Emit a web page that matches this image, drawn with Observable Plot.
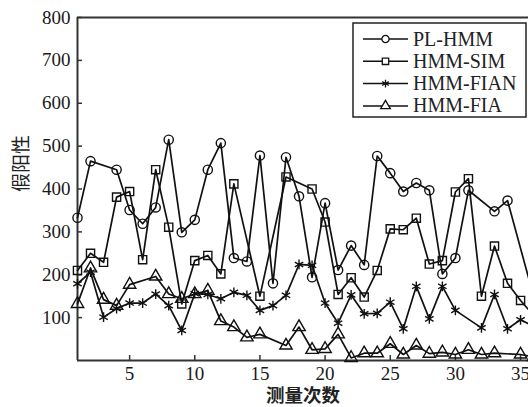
<!DOCTYPE html>
<html><head><meta charset="utf-8">
<script src="https://cdn.jsdelivr.net/npm/d3@7"></script>
<script src="https://cdn.jsdelivr.net/npm/@observablehq/plot@0.6"></script>
<style>body{margin:0;background:#fff;} #chart{width:528px;height:407px;overflow:hidden;}</style>
</head><body><div id="chart"></div>
<script>
const xs = d3.range(1, 37);
const seriesNames = ["PL-HMM", "HMM-SIM", "HMM-FIAN", "HMM-FIA"];
const seriesSymbols = ["circle", "square", "asterisk", "triangle"];
const plHmm   = [333, 465, null, 445, 351, 319, 357, 515, 299, 328, 445, 507, 239, 231, 478, 180, 474, 383, 194, 367, 211, 268, 223, 477, 437, 394, 414, 397, 202, 239, 397, null, 348, 373, null, 150];
const hmmSim  = [210, 250, 229, 381, 394, 235, 445, 311, 132, 233, 245, 202, 412, null, 150, null, 428, null, 400, 323, 154, 193, 148, 210, 307, 305, 332, 225, 233, 393, 424, 150, 267, 180, 140, 105];
const hmmFian = [179, 206, 101, 121, 134, 134, 155, 128, 70, 156, 154, 144, 159, 152, 117, 128, 152, 224, 222, 134, 87, 153, 109, 110, 136, 74, 173, 97, 173, 117, null, 76, 154, 74, 95, 80];
const hmmFia  = [132, 215, 142, 128, 177, null, 196, 155, 144, 155, 163, 92, 78, 54, 61, null, 35, 78, 25, 27, 61, 6, 17, 17, 39, 14, 35, 16, 19, 14, 25, 14, 17, null, 14, 8];
const xTicks = [5, 10, 15, 20, 25, 30, 35];
const yTicks = [100, 200, 300, 400, 500, 600, 700, 800];
const xTitle = "测量次数";
const yTitle = "假阳性";

const rows = [];
[plHmm, hmmSim, hmmFian, hmmFia].forEach((vals, s) => {
  vals.forEach((v, i) => { if (v != null) rows.push({x: xs[i], y: v, series: seriesNames[s]}); });
});

const serif = "Liberation Serif";
const cjk = "Noto Sans CJK SC";

const plot = Plot.plot({
  width: 528, height: 407,
  marginTop: 17, marginBottom: 47, marginLeft: 77, marginRight: 0,
  style: {background: "white", overflow: "hidden", color: "#222"},
  x: {domain: [1, 35.61]},
  y: {domain: [0, 800]},
  symbol: {domain: seriesNames, range: seriesSymbols},
  marks: [
    Plot.axisX({ticks: xTicks, tickSize: -5, text: null, label: null, strokeWidth: 1.5, stroke: "#333"}),
    Plot.axisY({ticks: yTicks, tickSize: -5, text: null, label: null, strokeWidth: 1.5, stroke: "#333"}),
    Plot.text(xTicks, {x: d => d, frameAnchor: "bottom", dy: 13, lineAnchor: "middle", fontFamily: serif, fontSize: 19, fill: "#1a1a1a"}),
    Plot.text(yTicks, {y: d => d, frameAnchor: "left", dx: -7, textAnchor: "end", fontFamily: serif, fontSize: 19, fill: "#1a1a1a"}),
    Plot.ruleY([0, 800], {stroke: "#333", strokeWidth: 2}),
    Plot.ruleX([1], {stroke: "#333", strokeWidth: 2}),
    Plot.line(rows, {x: "x", y: "y", z: "series", stroke: "#111", strokeWidth: 1.7}),
    Plot.dot(rows, {x: "x", y: "y", symbol: "series", stroke: "#111", strokeWidth: 1.4, r: 4.6, fill: "none"}),
    Plot.text([xTitle], {frameAnchor: "bottom", dy: 35.5, lineAnchor: "middle", fontFamily: cjk, fontSize: 18.5, fontWeight: 700, fill: "#222"}),
    Plot.text([yTitle], {frameAnchor: "left", rotate: -90, dx: -56, dy: 3, lineAnchor: "middle", fontFamily: cjk, fontSize: 19, fill: "#222"})
  ]
});

const svg = d3.select(plot);

// legend inside the plot, top-right
const lg = svg.append("g").attr("class", "legend").attr("text-anchor", "start");
lg.append("rect").attr("x", 353).attr("y", 23).attr("width", 173).attr("height", 94)
  .attr("fill", "white").attr("stroke", "#222").attr("stroke-width", 1.5);
const d3Sym = {circle: d3.symbolCircle, square: d3.symbolSquare, asterisk: d3.symbolAsterisk, triangle: d3.symbolTriangle};
seriesNames.forEach((name, i) => {
  const base = 45.5 + i * 22.3;
  const cy = base - 6.5;
  lg.append("line").attr("x1", 363).attr("x2", 408).attr("y1", cy).attr("y2", cy)
    .attr("stroke", "#111").attr("stroke-width", 1.5);
  lg.append("path").attr("transform", `translate(385.5,${cy})`)
    .attr("d", d3.symbol(d3Sym[seriesSymbols[i]], Math.PI * 3.6 * 3.6)())
    .attr("fill", "white").attr("stroke", "#111").attr("stroke-width", 1.3);
  lg.append("text").attr("x", 413).attr("y", base).attr("text-anchor", "start").text(name)
    .attr("font-family", serif).attr("font-size", 20).attr("fill", "#222");
});

document.getElementById("chart").appendChild(plot);
</script>
</body></html>
